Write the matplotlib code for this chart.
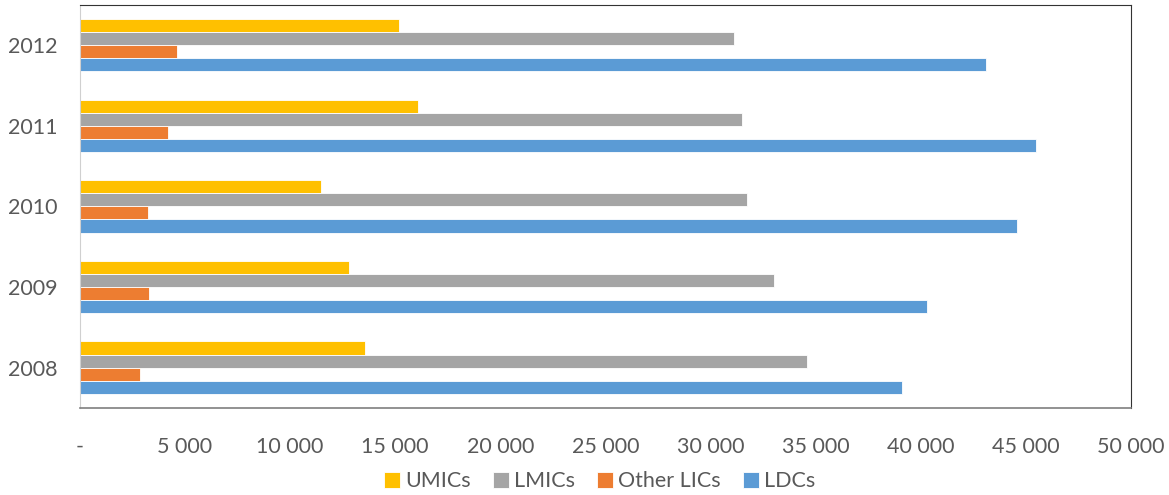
import numpy as np
import matplotlib
matplotlib.use("Agg")
import matplotlib.pyplot as plt
from matplotlib.ticker import FuncFormatter

years = ["2008", "2009", "2010", "2011", "2012"]
series = ["UMICs", "LMICs", "Other LICs", "LDCs"]
umics = [13550, 12800, 11450, 16080, 15190]
lmics = [34600, 33000, 31750, 31500, 31130]
other_lics = [2850, 3300, 3250, 4200, 4630]
ldcs = [39100, 40300, 44600, 45500, 43100]
colors = ["#FFC000", "#A5A5A5", "#ED7D31", "#5B9BD5"]

plt.rcParams["font.family"] = ["Lato", "DejaVu Sans"]
text_col = "#595959"

fig = plt.figure(figsize=(11.69, 4.95), dpi=100)
ax = fig.add_axes([0.0684, 0.176, 0.899, 0.814])

y = np.arange(len(years))
h = 0.162
# top-to-bottom within each year: UMICs, LMICs, Other LICs, LDCs
offsets = [1.5 * h, 0.5 * h, -0.5 * h, -1.5 * h]
for vals, off, col, name in zip([umics, lmics, other_lics, ldcs], offsets, colors, series):
    ax.barh(y + off, vals, height=h, color=col, edgecolor="white", linewidth=0.6, label=name)

ax.set_xlim(0, 50000)
ax.set_ylim(-0.5, 4.5)
ax.set_xticks(np.arange(0, 50001, 5000))
ax.xaxis.set_major_formatter(FuncFormatter(
    lambda v, p: "-" if v == 0 else f"{int(v):,}".replace(",", " ")))
ax.set_yticks(y)
ax.set_yticklabels(years)
ax.tick_params(axis="both", length=0, labelsize=15.5, colors=text_col)
ax.tick_params(axis="x", pad=21)
ax.tick_params(axis="y", pad=16)

ax.spines["left"].set_color("#d0d0d0")
ax.spines["bottom"].set_color("#7f7f7f")
ax.spines["bottom"].set_linewidth(1.2)
ax.spines["top"].set_color("#333333")
ax.spines["right"].set_color("#333333")

handles, labels = ax.get_legend_handles_labels()
fig.legend(handles, labels, loc="center", bbox_to_anchor=(0.513, 0.028), ncol=4,
           frameon=False, fontsize=15.5, labelcolor=text_col, handlelength=0.75,
           handleheight=0.75, handletextpad=0.25, columnspacing=1.0)

fig.savefig("out.png", dpi=100)
